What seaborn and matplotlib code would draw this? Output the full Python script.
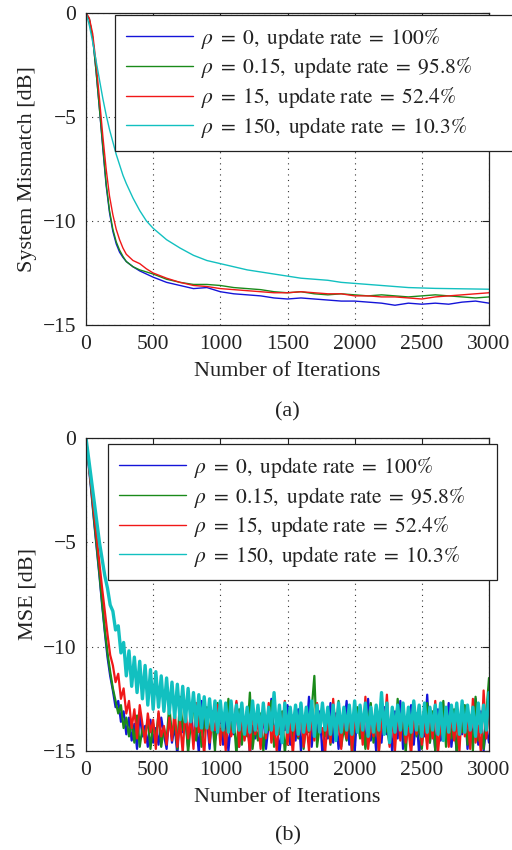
import matplotlib
matplotlib.use("Agg")
import matplotlib.pyplot as plt
import seaborn as sns
import pandas as pd

# ---------------- data ----------------
labels = [r"$\rho \;=\; 0,\ \mathrm{update\ rate} \;=\; 100\%$",
          r"$\rho \;=\; 0.15,\ \mathrm{update\ rate} \;=\; 95.8\%$",
          r"$\rho \;=\; 15,\ \mathrm{update\ rate} \;=\; 52.4\%$",
          r"$\rho \;=\; 150,\ \mathrm{update\ rate} \;=\; 10.3\%$"]
colors = ["#1414d8", "#1a8a1a", "#f01818", "#12c0c0"]

x_ticks = [0, 500, 1000, 1500, 2000, 2500, 3000]
y_ticks = [0, -5, -10, -15]

# (a) system mismatch
x_sm = [0, 25, 50, 75, 100, 125, 150, 175, 200, 225, 250, 275, 300, 350, 400, 450,
        500, 600, 700, 800, 900, 1000, 1100, 1200, 1300, 1400, 1500, 1600, 1700,
        1800, 1900, 2000, 2100, 2200, 2300, 2400, 2500, 2600, 2700, 2800, 2900, 3000]
sm_rho0 = [0, -0.3, -1.2, -2.8, -4.6, -6.5, -8.3, -9.6, -10.5, -11.1, -11.5, -11.75, -11.95, -12.2, -12.4, -12.55,
           -12.7, -12.95, -13.1, -13.25, -13.2, -13.4, -13.5, -13.55, -13.6, -13.7, -13.75, -13.7, -13.75,
           -13.8, -13.85, -13.85, -13.9, -13.95, -14.05, -13.95, -14.0, -13.95, -14.0, -13.9, -13.85, -13.95]
sm_rho015 = [0, -0.3, -1.2, -2.8, -4.6, -6.4, -8.2, -9.5, -10.4, -11.0, -11.4, -11.7, -11.95, -12.2, -12.35, -12.45,
             -12.55, -12.8, -12.95, -13.05, -13.05, -13.1, -13.2, -13.25, -13.3, -13.4, -13.45, -13.4, -13.5,
             -13.55, -13.5, -13.55, -13.6, -13.55, -13.6, -13.65, -13.6, -13.55, -13.6, -13.65, -13.7, -13.65]
sm_rho15 = [0, -0.25, -1.0, -2.4, -4.1, -5.9, -7.5, -8.8, -9.7, -10.4, -10.9, -11.3, -11.6, -11.9, -12.05, -12.3,
            -12.5, -12.75, -12.95, -13.1, -13.15, -13.25, -13.3, -13.35, -13.4, -13.45, -13.45, -13.4, -13.45,
            -13.5, -13.5, -13.6, -13.6, -13.65, -13.65, -13.7, -13.75, -13.65, -13.6, -13.55, -13.5, -13.45]
sm_rho150 = [0, -0.6, -1.4, -2.3, -3.2, -4.1, -4.9, -5.6, -6.2, -6.8, -7.3, -7.8, -8.2, -8.9, -9.5, -10.0,
             -10.35, -10.9, -11.3, -11.65, -11.9, -12.05, -12.2, -12.35, -12.45, -12.55, -12.65, -12.75, -12.8,
             -12.85, -12.95, -13.0, -13.05, -13.1, -13.15, -13.2, -13.22, -13.24, -13.25, -13.26, -13.27, -13.28]

# (b) MSE, one value every 20 iterations
x_mse = list(range(0, 3001, 20))
mse_rho0 = [
    0, -1.3, -2.6, -4.0, -5.3, -6.6, -8.0, -9.3, -10.5, -11.4, -12.1, -12.9, -12.6, -13.6, -13.1, -14.2,
    -13.4, -14.5, -13.7, -14.9, -13.2, -14.3, -13.8, -14.8, -13.5, -14.6, -13.9, -14.7, -13.4, -14.2, -14.9,
    -13.2, -14.6, -13.8, -15.2, -12.9, -14.1, -13.5, -14.8, -13.0, -14.4, -13.7, -15.1,
    -12.6, -14.0, -13.4, -14.9, -13.1, -14.5, -13.9, -12.8, -14.7, -13.3, -15.0, -13.6,
    -14.2, -12.7, -14.8, -13.5, -14.1, -13.0, -15.2, -13.8, -14.4, -12.9, -14.6, -13.2,
    -14.9, -13.7, -12.5, -14.3, -13.4, -15.1, -13.9, -14.0, -12.8, -14.7, -13.3, -14.5,
    -13.0, -15.0, -13.6, -14.2, -12.4, -14.8, -13.5, -14.1, -13.1, -15.2, -13.8, -14.4,
    -12.7, -14.6, -13.2, -14.9, -13.7, -14.0, -12.6, -14.7, -13.4, -15.1, -13.0, -14.3,
    -13.9, -14.8, -12.5, -14.5, -13.6, -15.0, -13.3, -14.6, -12.9, -14.2, -13.7, -15.1,
    -13.1, -14.4, -12.6, -14.9, -13.5, -14.0, -12.8, -14.7, -13.2, -15.2, -13.8, -14.3,
    -12.3, -14.6, -13.4, -15.0, -13.0, -14.5, -13.9, -14.1, -12.7, -14.8, -13.6, -15.1,
    -13.3, -14.2, -12.9, -14.9, -13.7, -14.4, -12.5, -14.7, -13.1, -15.0, -13.8, -14.6]
mse_rho015 = [
    0, -1.2, -2.5, -3.9, -5.2, -6.5, -7.9, -9.2, -10.3, -11.2, -12.0, -12.6, -13.2, -12.8, -13.9, -13.4,
    -14.3, -13.6, -14.6, -13.3, -14.8, -13.9, -14.2, -13.5, -14.9, -13.7, -14.4, -13.2, -14.8, -13.9, -14.5,
    -12.8, -14.3, -13.6, -14.9, -12.4, -14.0, -13.3, -15.1, -13.7, -12.6, -14.5, -13.1,
    -14.8, -13.9, -12.9, -14.2, -13.5, -15.0, -12.7, -14.4, -13.8, -14.6, -12.5, -14.1,
    -13.4, -15.2, -13.0, -14.7, -13.6, -14.3, -12.2, -14.9, -13.8, -14.5, -13.2, -15.0,
    -13.7, -14.0, -12.6, -14.8, -13.5, -14.2, -13.1, -15.1, -13.9, -12.9, -14.6, -13.4,
    -14.4, -12.7, -14.9, -13.6, -14.1, -13.0, -11.4, -14.8, -13.8, -12.8, -14.3, -13.5,
    -14.7, -13.2, -14.0, -12.6, -14.8, -13.9, -14.5, -13.1, -15.2, -13.7, -12.9, -14.4,
    -13.3, -14.9, -13.6, -12.7, -14.6, -13.4, -15.0, -12.8, -14.2, -13.9, -14.7, -13.0,
    -14.5, -12.5, -14.1, -13.6, -15.1, -13.2, -14.8, -12.9, -14.3, -13.8, -14.9, -13.4,
    -12.7, -14.6, -13.1, -15.0, -13.7, -14.2, -12.6, -14.8, -13.5, -14.4, -13.0, -15.2,
    -13.9, -14.1, -12.8, -14.7, -13.3, -15.0, -12.4, -14.5, -13.6, -14.9, -13.2, -11.5]
mse_rho15 = [
    0, -1.2, -2.4, -3.6, -4.8, -6.0, -7.2, -8.3, -9.4, -10.4, -10.9, -11.7, -11.3, -12.5, -12.0, -13.2,
    -12.6, -13.9, -13.0, -14.4, -12.8, -13.7, -14.6, -13.2, -14.1, -13.5, -14.9, -13.1, -14.3, -13.8, -14.7,
    -13.4, -14.5, -13.0, -14.8, -13.6, -15.1, -12.9, -14.4, -13.3, -14.9, -12.7, -14.1,
    -13.8, -15.2, -13.0, -14.6, -13.5, -14.0, -12.8, -14.7, -13.4, -15.0, -13.2, -14.3,
    -13.9, -12.6, -14.8, -13.1, -14.5, -13.7, -15.1, -12.9, -14.2, -13.6, -14.9, -13.0,
    -14.4, -12.7, -14.6, -13.8, -15.0, -13.3, -14.1, -12.6, -14.7, -13.5, -15.2, -13.1,
    -14.3, -12.8, -14.8, -13.6, -15.0, -13.2, -14.5, -12.7, -14.0, -13.9, -15.1, -13.4,
    -14.6, -12.5, -14.2, -13.7, -14.9, -13.0, -14.4, -12.8, -15.0, -13.5, -14.1, -13.2,
    -14.7, -12.4, -14.9, -13.8, -14.3, -12.9, -15.1, -13.6, -14.0, -12.3, -14.8, -13.4,
    -15.0, -13.1, -14.5, -12.7, -14.6, -13.9, -15.2, -13.3, -14.2, -12.8, -14.7, -13.5,
    -14.9, -13.0, -14.4, -12.6, -15.1, -13.7, -14.1, -12.9, -14.8, -13.2, -14.5, -13.6,
    -15.0, -12.7, -14.3, -13.4, -14.9, -12.5, -14.6, -13.8, -15.1, -12.1, -14.4, -13.0]
mse_rho150 = [
    0, -1.0, -2.0, -3.0, -4.0, -5.0, -5.8, -6.6, -7.2, -8.0, -8.3, -9.2, -9.0, -10.3, -9.8, -11.4,
    -10.2, -11.9, -10.5, -12.2, -10.7, -12.5, -10.9, -12.8, -11.1, -13.0, -11.2, -12.9, -11.4, -13.1, -11.5,
    -13.2, -11.7, -13.4, -11.8, -13.5, -11.9, -13.6, -12.0, -13.6, -12.2, -13.8, -12.3,
    -13.9, -12.4, -13.9, -12.5, -14.0, -12.6, -14.1, -12.6, -14.0, -12.7, -14.1, -12.6,
    -14.1, -12.8, -14.0, -12.7, -14.2, -12.9, -14.1, -12.6, -14.0, -12.8, -14.3, -12.7,
    -14.1, -12.9, -14.0, -12.2, -14.2, -12.8, -14.6, -12.7, -14.1, -12.9, -14.0, -12.8,
    -14.2, -12.7, -14.1, -12.9, -14.0, -12.6, -14.3, -12.8, -14.1, -12.7, -14.0, -12.9,
    -14.2, -12.8, -14.5, -12.7, -14.1, -12.9, -14.0, -12.8, -14.2, -12.6, -14.1, -12.8,
    -14.0, -12.7, -14.3, -12.9, -14.1, -12.8, -14.0, -12.2, -14.2, -12.7, -14.6, -12.9,
    -14.1, -12.8, -14.0, -12.7, -14.2, -12.9, -14.1, -12.6, -14.0, -12.8, -14.3, -12.7,
    -14.1, -12.9, -14.0, -12.8, -14.2, -12.7, -14.5, -12.9, -14.1, -12.8, -14.0, -12.7,
    -14.2, -12.6, -14.1, -12.8, -14.0, -12.9, -14.3, -12.7, -14.1, -12.8, -14.0, -12.2]

# ---------------- style ----------------
sns.set_theme(style="white")
plt.rcParams["font.family"] = ["Liberation Serif", "DejaVu Serif"]
plt.rcParams["mathtext.fontset"] = "stix"
plt.rcParams["axes.unicode_minus"] = True

fig = plt.figure(figsize=(5.12, 8.5), dpi=100)
L, W = 86 / 512, (489 - 86) / 512
ax1 = fig.add_axes([L, 1 - 325 / 850, W, 312 / 850])
ax2 = fig.add_axes([L, 1 - 751 / 850, W, 313 / 850])

FS = 15.5
TXT = "#222222"


def style_axes(ax, ylabel):
    ax.set_xlim(0, 3000)
    ax.set_ylim(-15, 0)
    ax.set_xticks(x_ticks)
    ax.set_yticks(y_ticks)
    ax.set_facecolor("white")
    for s in ax.spines.values():
        s.set_color(TXT)
        s.set_linewidth(0.9)
    ax.tick_params(direction="in", top=True, right=True, length=5, width=0.8,
                   labelsize=FS, colors=TXT, pad=7)
    ax.grid(True, linestyle=(0, (1, 4)), color="#333333", linewidth=0.8)
    ax.set_xlabel("Number of Iterations", fontsize=16, color=TXT, labelpad=6)
    ax.set_ylabel(ylabel, fontsize=16, color=TXT, labelpad=4)


def add_legend(ax, top_px, left_px, right_px):
    w = (right_px - left_px) / 512
    leg = ax.legend(loc="upper left",
                    bbox_to_anchor=(left_px / 512, 1 - top_px / 850 - 0.1, w, 0.1),
                    bbox_transform=fig.transFigure, borderaxespad=0, fancybox=False,
                    mode="expand",
                    framealpha=1, edgecolor=TXT, fontsize=15.5, handlelength=3.1,
                    handletextpad=0.4, labelspacing=0.22, borderpad=0.5)
    leg.get_frame().set_linewidth(0.9)
    leg.set_zorder(10)
    for t in leg.get_texts():
        t.set_color(TXT)
    for line in leg.get_lines():
        line.set_linewidth(1.0)


series_sm = [sm_rho0, sm_rho015, sm_rho15, sm_rho150]
for vals, lab, c in zip(series_sm, labels, colors):
    df = pd.DataFrame({"it": x_sm, "v": vals})
    sns.lineplot(data=df, x="it", y="v", ax=ax1, color=c, label=lab,
                 linewidth=1.0, estimator=None, sort=False)
style_axes(ax1, "System Mismatch [dB]")
add_legend(ax1, 15, 115, 516)

series_mse = [mse_rho0, mse_rho015, mse_rho15, mse_rho150]
mse_widths = [1.6, 1.6, 1.6, 2.4]
for vals, lab, c, lw in zip(series_mse, labels, colors, mse_widths):
    df = pd.DataFrame({"it": x_mse, "v": vals})
    sns.lineplot(data=df, x="it", y="v", ax=ax2, color=c, label=lab,
                 linewidth=lw, estimator=None, sort=False)
style_axes(ax2, "MSE [dB]")
add_legend(ax2, 444, 108, 497)

fig.text(0.5 * (86 + 489) / 512, 1 - 412 / 850, "(a)", ha="center", va="center",
         fontsize=16, color=TXT)
fig.text(0.5 * (86 + 489) / 512, 1 - 836 / 850, "(b)", ha="center", va="center",
         fontsize=16, color=TXT)

fig.savefig("out.png", dpi=100, facecolor="white")
